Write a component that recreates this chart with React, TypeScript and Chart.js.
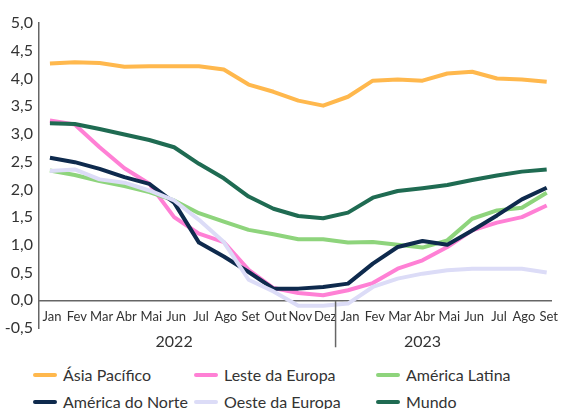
import React, { useEffect, useRef } from "react";
import { Chart, registerables } from "chart.js";

Chart.register(...registerables);

const months = ["Jan","Fev","Mar","Abr","Mai","Jun","Jul","Ago","Set","Out","Nov","Dez","Jan","Fev","Mar","Abr","Mai","Jun","Jul","Ago","Set"];
const years = ["2022", "2023"];
const yearCenters = [5, 15];
const yearBoundary = 11.5;
const yTicks = [-0.5, 0, 0.5, 1, 1.5, 2, 2.5, 3, 3.5, 4, 4.5, 5];

const asiaPacifico = [4.27,4.29,4.28,4.21,4.22,4.22,4.22,4.16,3.89,3.76,3.60,3.51,3.67,3.96,3.98,3.96,4.09,4.12,4.00,3.98,3.94];
const lesteEuropa = [3.24,3.17,2.76,2.38,2.10,1.50,1.20,1.05,0.55,0.22,0.13,0.09,0.18,0.31,0.57,0.72,0.96,1.26,1.40,1.50,1.71];
const americaLatina = [2.34,2.26,2.15,2.06,1.95,1.80,1.57,1.42,1.27,1.19,1.10,1.10,1.04,1.05,1.00,0.95,1.08,1.47,1.62,1.67,1.94];
const americaNorte = [2.57,2.49,2.37,2.22,2.10,1.76,1.04,0.79,0.51,0.21,0.21,0.24,0.30,0.66,0.96,1.07,1.00,1.26,1.53,1.82,2.03];
const oesteEuropa = [2.33,2.36,2.18,2.12,1.98,1.80,1.45,1.05,0.37,0.16,-0.10,-0.10,-0.06,0.24,0.39,0.48,0.54,0.57,0.57,0.57,0.50];
const mundo = [3.19,3.18,3.09,2.99,2.89,2.76,2.46,2.20,1.87,1.65,1.52,1.48,1.58,1.85,1.97,2.02,2.08,2.17,2.25,2.32,2.36];

const seriesNames = ["Ásia Pacífico","Leste da Europa","América Latina","América do Norte","Oeste da Europa","Mundo"];
const seriesData = [asiaPacifico, lesteEuropa, americaLatina, americaNorte, oesteEuropa, mundo];
const seriesColors = ["#FFB84D","#FF80D5","#8ED47C","#0E2A4D","#DCDCF7","#1F6B52"];

const FONT = "Lato, 'Noto Sans', sans-serif";
const TEXT = "#333333";
const AXIS = "#666666";

const yearPlugin = {
  id: "yearLabels",
  afterDraw(chart: any) {
    const { ctx } = chart;
    const xs = chart.scales.x;
    const ys = chart.scales.y;
    const y0 = ys.getPixelForValue(0);
    ctx.save();
    const sx = xs.getPixelForValue(yearBoundary);
    ctx.strokeStyle = AXIS;
    ctx.lineWidth = 1.5;
    ctx.beginPath();
    ctx.moveTo(sx, y0);
    ctx.lineTo(sx, y0 + 47);
    ctx.stroke();
    ctx.fillStyle = TEXT;
    ctx.font = "16px " + FONT;
    ctx.textAlign = "center";
    ctx.textBaseline = "middle";
    years.forEach((yr, i) => {
      ctx.fillText(yr, xs.getPixelForValue(yearCenters[i]), y0 + 42);
    });
    ctx.restore();
  },
};

export default function App() {
  const ref = useRef<HTMLCanvasElement>(null);
  useEffect(() => {
    if (!ref.current) return;
    const chart = new Chart(ref.current, {
      type: "line",
      data: {
        datasets: seriesNames.map((name, i) => ({
          label: name,
          data: seriesData[i].map((v, j) => ({ x: j, y: v })),
          borderColor: seriesColors[i],
          backgroundColor: seriesColors[i],
          borderWidth: 4,
          pointRadius: 0,
          tension: 0,
          order: seriesNames.length - i,
          borderJoinStyle: "round" as const,
        })),
      },
      options: {
        animation: false,
        responsive: false,
        maintainAspectRatio: false,
        layout: { padding: { top: 23, bottom: 27, left: 0, right: 6 } },
        plugins: { legend: { display: false }, tooltip: { enabled: false }, title: { display: false } },
        scales: {
          x: {
            type: "linear",
            position: { y: 0 } as any,
            min: -0.44,
            max: 20.2,
            afterBuildTicks: (scale: any) => {
              scale.ticks = months.map((_, i) => ({ value: i }));
            },
            grid: { display: false, drawTicks: false },
            border: { display: true, color: AXIS, width: 1.5 },
            ticks: {
              autoSkip: false,
              maxRotation: 0,
              padding: 9,
              labelOffset: 2,
              color: TEXT,
              font: { family: FONT, size: 13 },
              callback: (v: any) => months[Math.round(Number(v))] ?? "",
            },
          },
          y: {
            type: "linear",
            min: -0.5,
            max: 5,
            afterBuildTicks: (scale: any) => {
              scale.ticks = yTicks.map((v) => ({ value: v }));
            },
            afterFit: (scale: any) => {
              scale.width = 39;
            },
            grid: { display: false, drawTicks: false },
            border: { display: true, color: AXIS, width: 1.5 },
            ticks: {
              padding: 6,
              color: TEXT,
              font: { family: FONT, size: 16 },
              callback: (v: any) => Number(v).toFixed(1).replace(".", ","),
            },
          },
        },
      },
      plugins: [yearPlugin],
    });
    return () => chart.destroy();
  }, []);

  return (
    <div style={{ position: "absolute", left: 0, top: 0, width: 565, height: 409, background: "#fff", fontFamily: FONT }}>
      <canvas ref={ref} width={565} height={355} style={{ display: "block", width: 565, height: 355 }} />
      <div
        style={{
          position: "absolute",
          left: 33,
          top: 361,
          display: "grid",
          gridTemplateColumns: "161px 182px auto",
          gridAutoRows: "27px",
          color: TEXT,
          fontSize: 16,
        }}
      >
        {seriesNames.map((name, i) => (
          <div key={name} style={{ display: "flex", alignItems: "center", whiteSpace: "nowrap" }}>
            <span style={{ display: "inline-block", width: 24, height: 4, borderRadius: 2, background: seriesColors[i], marginRight: 6 }} />
            <span>{name}</span>
          </div>
        ))}
      </div>
    </div>
  );
}
